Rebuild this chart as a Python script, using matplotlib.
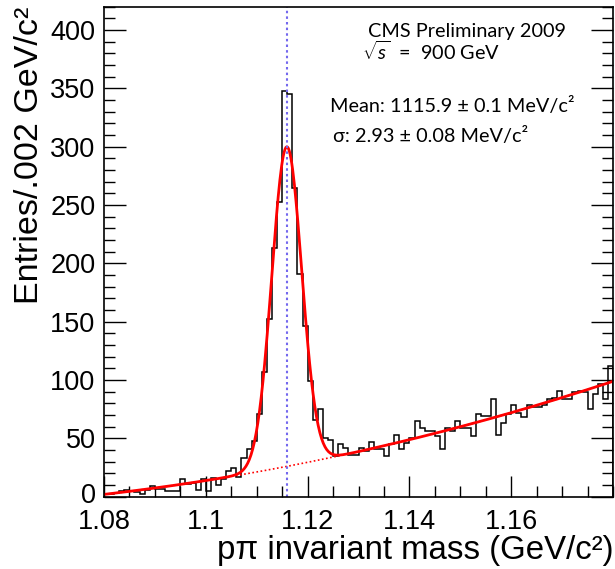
import matplotlib as mpl

mpl.use('Agg')
import matplotlib.pyplot as plt
import matplotlib.transforms as mtransforms
import numpy as np
from matplotlib.ticker import MultipleLocator

plt.rcParams['font.family'] = ['Liberation Sans', 'DejaVu Sans']
plt.rcParams['mathtext.fontset'] = 'custom'
plt.rcParams['mathtext.rm'] = 'Lato'
plt.rcParams['mathtext.it'] = 'Lato:italic'

# histogram: p-pi invariant mass, 100 bins of 1 MeV from 1.08 to 1.18 GeV
bin_lo = 1.08
bin_width = 0.001
counts = [2, 2, 3, 5, 6, 5, 4, 2, 6, 9,
          7, 7, 5, 5, 5, 15, 11, 12, 6, 15,
          5, 16, 10, 15, 22, 25, 17, 33, 41, 48,
          71, 107, 152, 213, 253, 348, 345, 265, 191, 146,
          99, 66, 75, 50, 49, 35, 45, 42, 36, 36,
          42, 39, 47, 41, 41, 35, 45, 53, 41, 46,
          50, 65, 59, 56, 56, 52, 41, 59, 56, 65,
          59, 59, 52, 71, 69, 69, 84, 53, 63, 71,
          79, 72, 68, 79, 77, 77, 79, 84, 85, 91,
          84, 84, 90, 91, 90, 75, 88, 97, 84, 112]

# fit result: gaussian signal + 2nd order polynomial background (t in MeV above 1.08)
fit_mean = 1.1159
fit_sigma = 0.00293
fit_amp = 274
bkg_p = [2.0, 0.5, 0.0047]

counts = np.array(counts)
edges = bin_lo + bin_width * np.arange(len(counts) + 1)


def bkg(x):
    t = (x - bin_lo) * 1000
    return bkg_p[0] + bkg_p[1] * t + bkg_p[2] * t ** 2


def fit(x):
    return bkg(x) + fit_amp * np.exp(-0.5 * ((x - fit_mean) / fit_sigma) ** 2)


fig = plt.figure(figsize=(6.15, 5.69), dpi=100)
ax = fig.add_axes([0.169, 0.127, 0.828, 0.861])

ax.stairs(counts, edges, color='black', lw=1.1)

xs = np.linspace(edges[0], edges[-1], 600)
ax.plot(xs, bkg(xs), color='red', lw=1.2, ls=(0, (1, 1.5)))
ax.plot(xs, fit(xs), color='red', lw=2)
ax.axvline(fit_mean, color='#7468ee', lw=1.5, ls=(0, (1.2, 1.5)))

ax.set_xlim(1.08, 1.18)
ax.set_ylim(0, 420)
ax.xaxis.set_minor_locator(MultipleLocator(0.005))
ax.yaxis.set_major_locator(MultipleLocator(50))
ax.yaxis.set_minor_locator(MultipleLocator(10))
ax.set_xticks([1.08, 1.1, 1.12, 1.14, 1.16])
ax.set_xticklabels(['1.08', '1.1', '1.12', '1.14', '1.16'])
ax.set_yticks(np.arange(0, 401, 50))
ax.tick_params(which='both', direction='in', left=True, right=True, top=False,
               labelsize=19.5, width=1)
ax.tick_params(axis='x', which='major', length=15, pad=9)
ax.tick_params(axis='x', which='minor', length=8)
ax.tick_params(axis='y', which='major', length=16, pad=6)
ax.tick_params(axis='y', which='minor', length=8)
for s in ax.spines.values():
    s.set_linewidth(1.2)

# lift the "0" a bit so it does not sit on top of "1.08"
zero = ax.yaxis.get_major_ticks()[0].label1
zero.set_transform(zero.get_transform() +
                   mtransforms.ScaledTranslation(0, 4 / 100, fig.dpi_scale_trans))

ax.set_xlabel('pπ invariant mass (GeV/c²)', fontsize=23.8, loc='right', labelpad=0)
ax.set_ylabel('Entries/.002 GeV/c²', fontsize=24.5, loc='top', labelpad=4)

txt = dict(family=['Lato', 'DejaVu Sans'], fontsize=14.3, transform=ax.transAxes)
ax.text(0.519, 0.938, 'CMS Preliminary 2009', **txt)
ax.text(0.506, 0.892, r'$\sqrt{s}$  =  900 GeV', **txt)
ax.text(0.443, 0.786, 'Mean: 1115.9 ± 0.1 MeV/c²', **txt)
ax.text(0.450, 0.725, 'σ: 2.93 ± 0.08 MeV/c²', **txt)

fig.savefig('out.png', dpi=100)
